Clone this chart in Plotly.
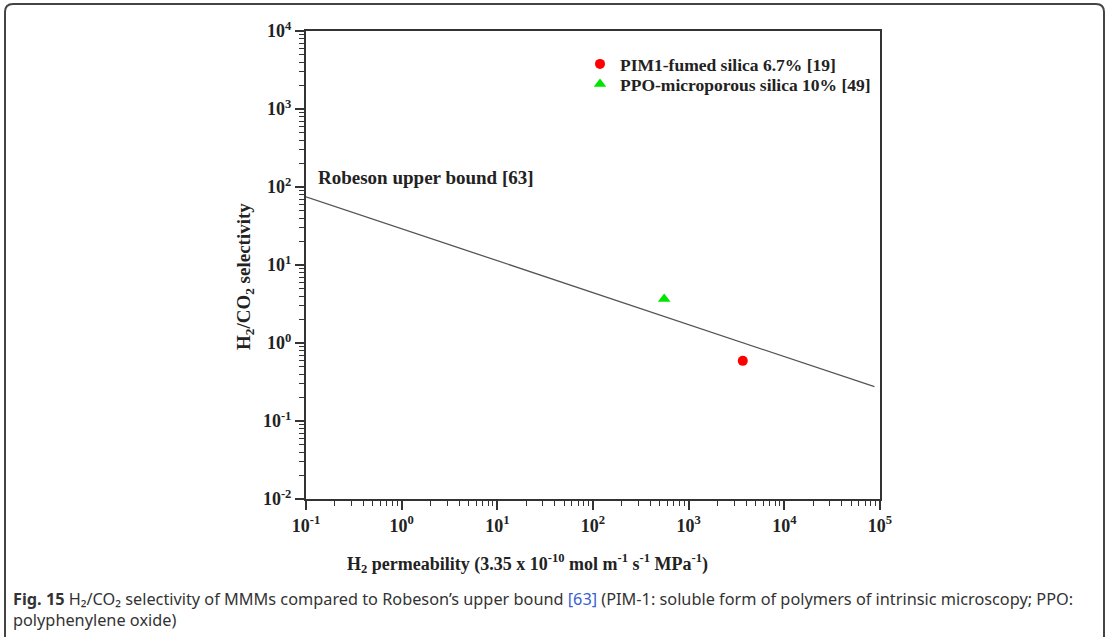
import plotly.graph_objects as go

# Robeson upper bound for H2/CO2 (end points of the straight line in log-log space)
bound_perm = [0.1, 87500]
bound_sel = [75, 0.275]

# Mixed matrix membranes
pim_perm = [3680]
pim_sel = [0.59]
ppo_perm = [555]
ppo_sel = [3.66]

# Decade ticks
x_exps = [-1, 0, 1, 2, 3, 4, 5]
y_exps = [-2, -1, 0, 1, 2, 3, 4]

W, H = 1109, 637
L, R, T, B = 306, 229, 31, 138
PW, PH = W - L - R, H - T - B


def px(x):
    return (x - L) / PW


def py(y):
    return (H - B - y) / PH


serif = "Liberation Serif"
ink = "#222222"

fig = go.Figure()
fig.add_trace(go.Scatter(
    x=bound_perm, y=bound_sel, mode="lines",
    line=dict(color="#555555", width=1.3), showlegend=False,
))
fig.add_trace(go.Scatter(
    x=pim_perm, y=pim_sel, mode="markers", name="PIM1-fumed silica 6.7% [19]",
    marker=dict(symbol="circle", size=10, color="#ff0000"), legend="legend",
))
fig.add_trace(go.Scatter(
    x=ppo_perm, y=ppo_sel, mode="markers", name="PPO-microporous silica 10% [49]",
    marker=dict(symbol="triangle-up", size=11, color="#00e600"), legend="legend2",
))


def log_axis(exps):
    minor_vals = [m * 10.0 ** e for e in exps[:-1] for m in range(2, 10)]
    return dict(
        type="log", showgrid=False, zeroline=False,
        showline=True, linecolor="#333333", linewidth=2, mirror=True,
        ticks="outside", ticklen=9, tickwidth=1.5, tickcolor="#333333",
        tickmode="array",
        tickvals=[10.0 ** e for e in exps],
        ticktext=[f"10<sup>{e}</sup>" for e in exps],
        tickfont=dict(family=serif, size=18, color=ink, weight="bold"),
        minor=dict(ticks="outside", ticklen=5, tickwidth=1.2, tickcolor="#333333",
                   tickmode="array", tickvals=minor_vals, showgrid=False),
        range=[exps[0], exps[-1]],
    )


fig.update_xaxes(**log_axis(x_exps))
fig.update_yaxes(**log_axis(y_exps))

annotations = [
    dict(x=px(527), y=py(563), xref="paper", yref="paper", xanchor="center", yanchor="middle",
         text="H<sub>2</sub> permeability (3.35 x 10<sup>-10</sup> mol m<sup>-1</sup> s<sup>-1</sup> MPa<sup>-1</sup>)",
         showarrow=False, font=dict(family=serif, size=18, color=ink, weight="bold")),
    dict(x=px(245), y=py(277), xref="paper", yref="paper", xanchor="center", yanchor="middle",
         text="H<sub>2</sub>/CO<sub>2</sub> selectivity", textangle=-90,
         showarrow=False, font=dict(family=serif, size=19, color=ink, weight="bold")),
    dict(x=px(316), y=py(177), xref="paper", yref="paper", xanchor="left", yanchor="middle",
         text="Robeson upper bound [63]", showarrow=False,
         font=dict(family=serif, size=19, color=ink, weight="bold")),
    dict(x=px(11), y=py(598), xref="paper", yref="paper", xanchor="left", yanchor="top",
         text="<b>Fig. 15</b> H₂/CO₂ selectivity of MMMs compared to Robeson’s upper bound "
              "<span style='color:#3a5fcd'>[63]</span> (PIM-1: soluble form of polymers of intrinsic microscopy; PPO:"
              "<br>polyphenylene oxide)",
         showarrow=False, align="left", yshift=12,
         font=dict(family="Noto Sans", size=16.3, color="#333333")),
]

# rounded outer frame
x0, y0, x1, y1, r = px(5), py(4), px(1104), py(645), 8
rx, ry = r / PW, r / PH
frame = (f"M {x0},{y0 - ry} Q {x0},{y0} {x0 + rx},{y0} L {x1 - rx},{y0} Q {x1},{y0} {x1},{y0 - ry} "
         f"L {x1},{y1} L {x0},{y1} Z")

legend_font = dict(family=serif, size=17.5, color=ink, weight="bold")

fig.update_layout(
    width=W, height=H, margin=dict(l=L, r=R, t=T, b=B),
    paper_bgcolor="white", plot_bgcolor="white",
    annotations=annotations,
    shapes=[dict(type="path", path=frame, xref="paper", yref="paper",
                 line=dict(color="#444444", width=2), layer="below")],
    legend=dict(x=px(580), y=py(46), xanchor="left", yanchor="top",
                bgcolor="rgba(0,0,0,0)", font=legend_font),
    legend2=dict(x=px(580), y=py(66), xanchor="left", yanchor="top",
                 bgcolor="rgba(0,0,0,0)", font=legend_font),
)

fig.write_html("out.html")
